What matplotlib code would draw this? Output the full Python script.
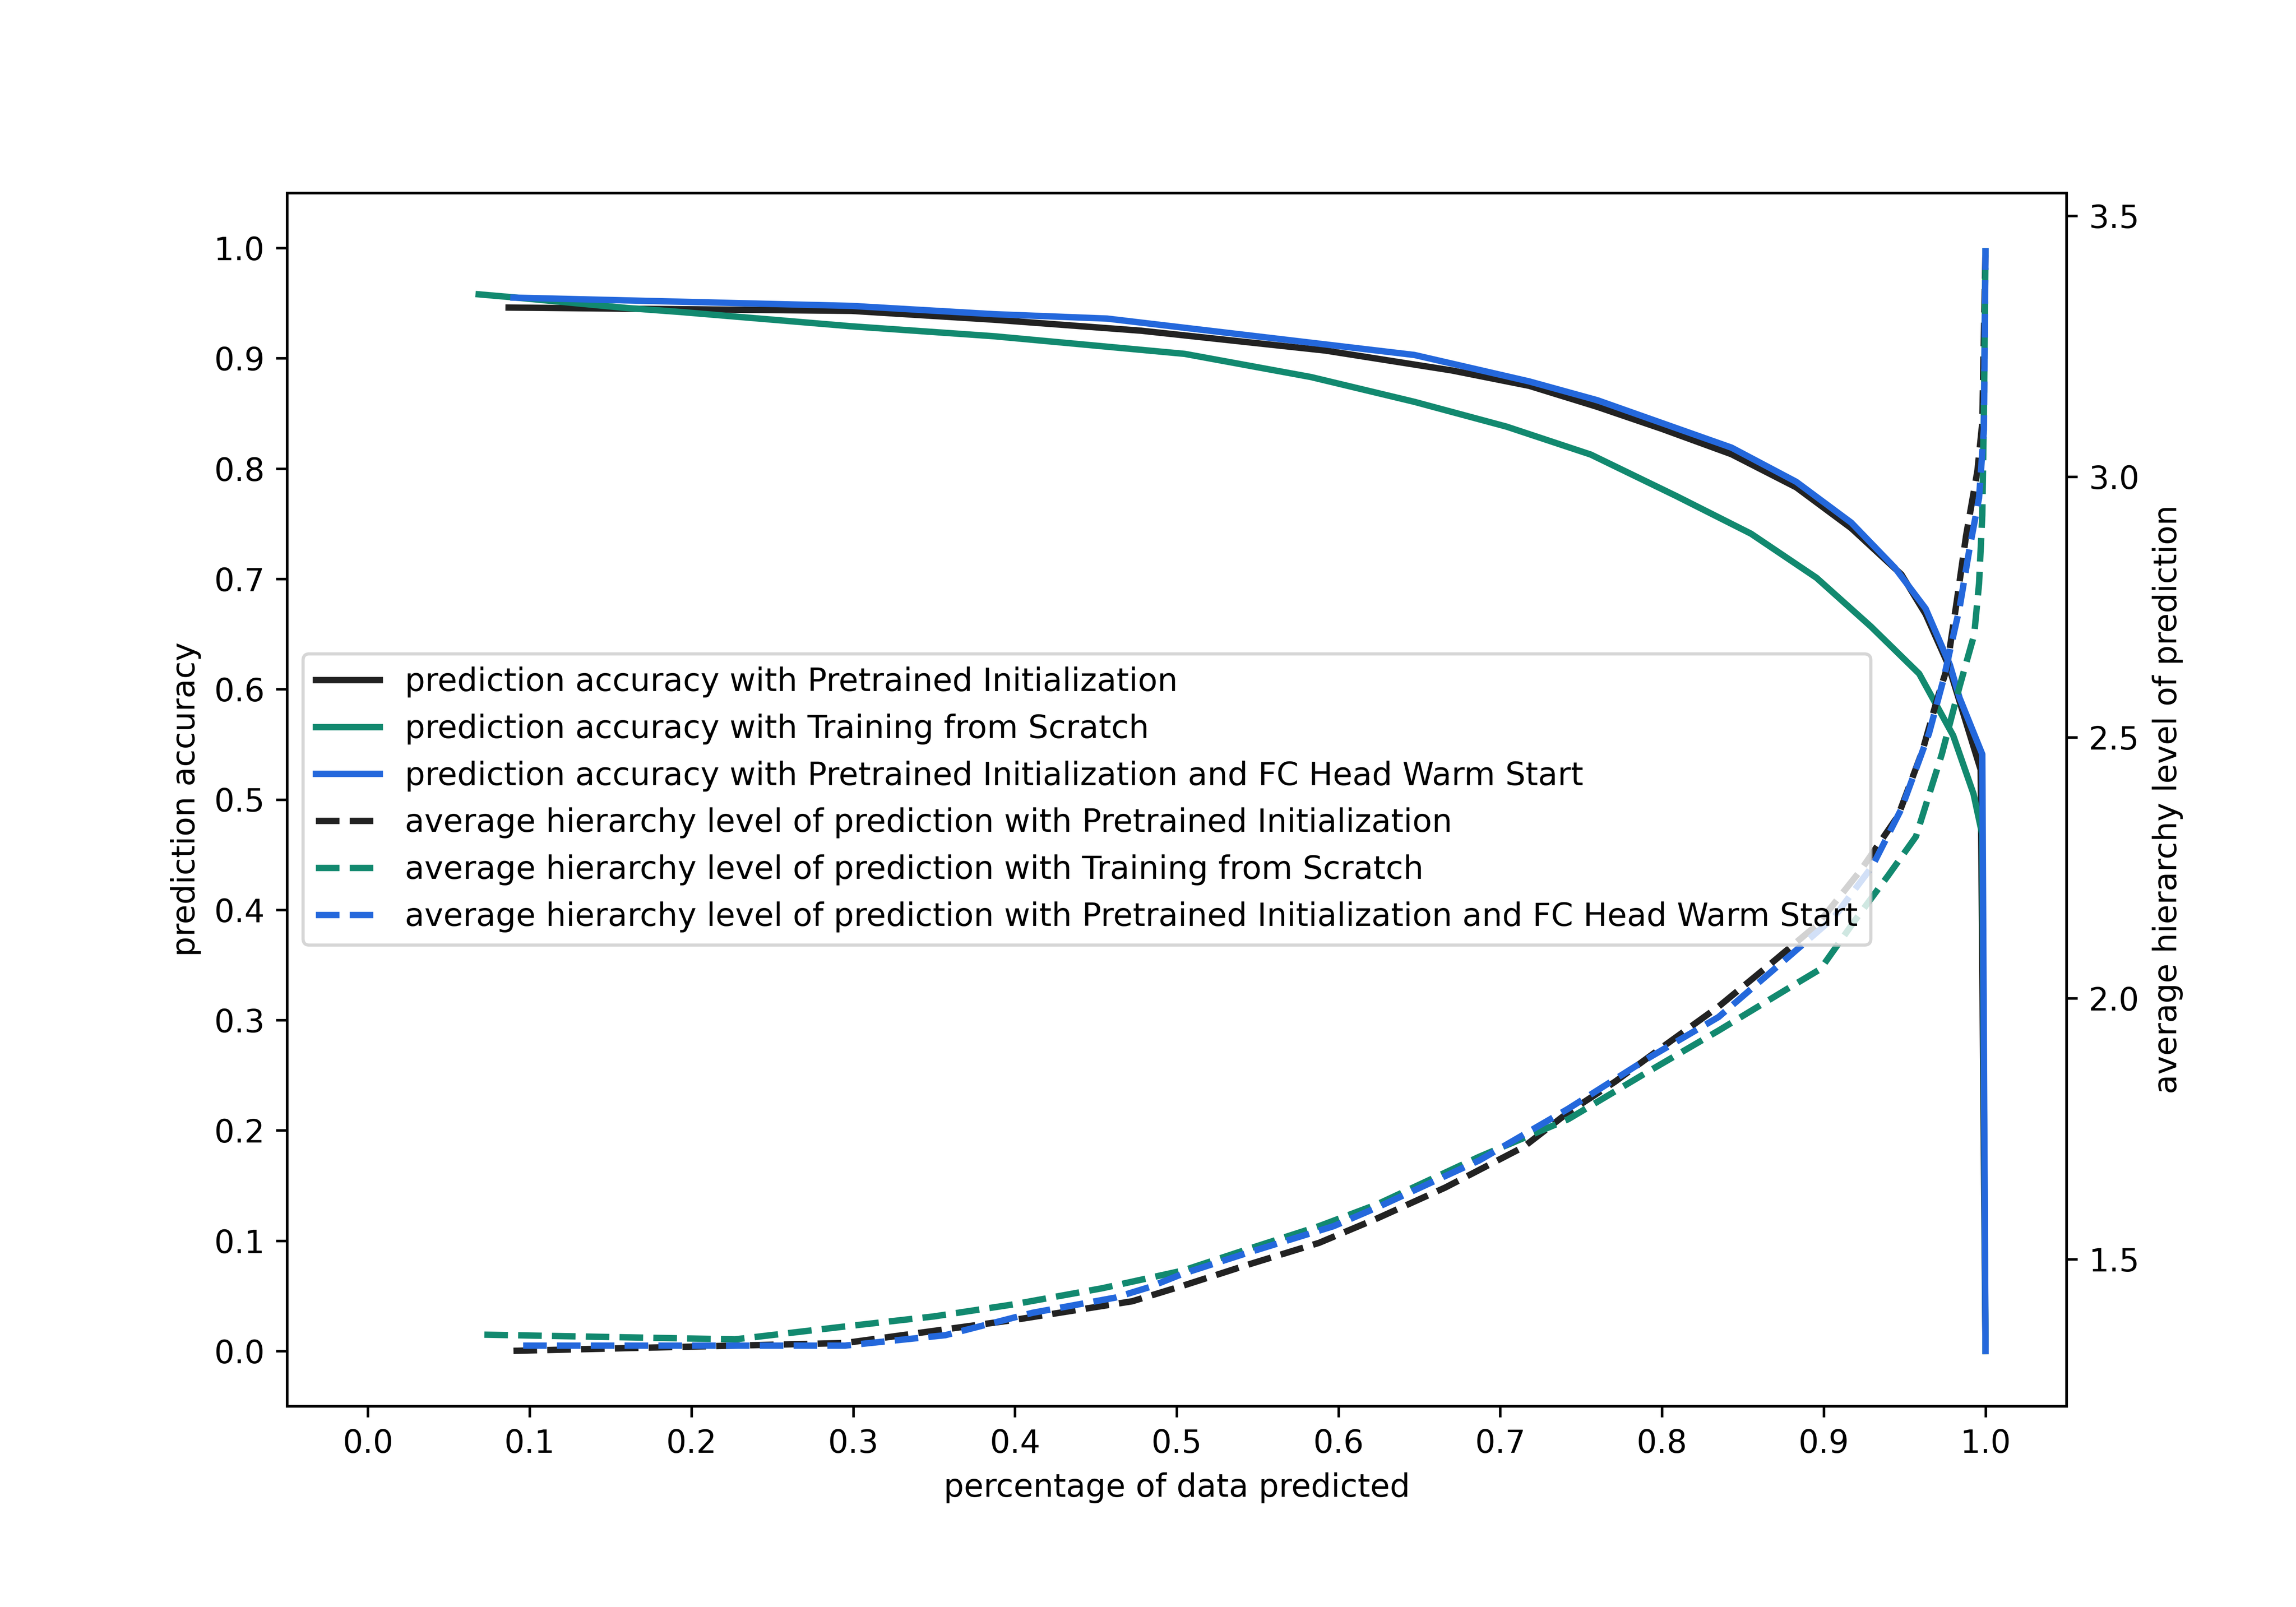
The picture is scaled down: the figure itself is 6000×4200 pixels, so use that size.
import matplotlib
matplotlib.use("Agg")
import matplotlib.pyplot as plt
import numpy as np

# ---- data: prediction accuracy (left axis) ----
acc_pre_x = [0.087, 0.299, 0.387, 0.478, 0.592, 0.670, 0.718, 0.760, 0.800, 0.843, 0.883, 0.917, 0.948,
             0.963, 0.977, 0.997, 1.0]
acc_pre_y = [0.946, 0.943, 0.935, 0.925, 0.907, 0.889, 0.875, 0.856, 0.836, 0.813, 0.783, 0.746, 0.704,
             0.668, 0.622, 0.527, 0.0]

acc_scr_x = [0.0685, 0.092, 0.160, 0.193, 0.299, 0.387, 0.505, 0.583, 0.647, 0.704, 0.756, 0.809, 0.855,
             0.8955, 0.929, 0.959, 0.980, 0.9926, 0.998, 1.0]
acc_scr_y = [0.958, 0.955, 0.9456, 0.942, 0.929, 0.920, 0.904, 0.883, 0.8605, 0.838, 0.8127, 0.775, 0.741,
             0.701, 0.657, 0.614, 0.558, 0.505, 0.468, 0.0]

acc_fc_x = [0.090, 0.299, 0.387, 0.457, 0.647, 0.718, 0.760, 0.843, 0.883, 0.917, 0.944, 0.963, 0.978,
            0.984, 0.998, 1.0]
acc_fc_y = [0.955, 0.9475, 0.940, 0.936, 0.903, 0.879, 0.862, 0.819, 0.788, 0.751, 0.710, 0.673, 0.622,
            0.592, 0.541, 0.0]

# ---- data: average hierarchy level (right axis) ----
lvl_pre_x = [0.090, 0.295, 0.399, 0.4725, 0.504, 0.546, 0.588, 0.624, 0.666, 0.7145, 0.742, 0.771, 0.797,
             0.835, 0.866, 0.896, 0.923, 0.946, 0.961, 0.970, 0.976, 0.982, 0.988, 0.995, 0.998, 1.0]
lvl_pre_y = [1.324, 1.339, 1.383, 1.419, 1.449, 1.491, 1.531, 1.578, 1.637, 1.715, 1.781, 1.840, 1.899,
             1.984, 2.063, 2.141, 2.246, 2.350, 2.474, 2.572, 2.631, 2.756, 2.887, 3.011, 3.103, 3.438]

lvl_scr_x = [0.072, 0.227, 0.293, 0.350, 0.399, 0.454, 0.504, 0.546, 0.588, 0.624, 0.687, 0.742, 0.788,
             0.835, 0.877, 0.898, 0.919, 0.940, 0.957, 0.973, 0.984, 0.993, 0.996, 0.998, 0.999, 1.0]
lvl_scr_y = [1.355, 1.346, 1.370, 1.390, 1.413, 1.444, 1.478, 1.521, 1.563, 1.605, 1.696, 1.768, 1.853,
             1.938, 2.017, 2.056, 2.148, 2.236, 2.310, 2.468, 2.598, 2.697, 2.795, 2.926, 3.122, 3.438]

lvl_fc_x = [0.096, 0.295, 0.357, 0.411, 0.462, 0.483, 0.504, 0.546, 0.597, 0.624, 0.687, 0.742, 0.792,
            0.835, 0.877, 0.906, 0.930, 0.948, 0.965, 0.974, 0.984, 0.990, 0.996, 0.999, 1.0]
lvl_fc_y = [1.334, 1.334, 1.354, 1.397, 1.426, 1.446, 1.472, 1.514, 1.563, 1.599, 1.689, 1.788, 1.886,
            1.964, 2.076, 2.154, 2.253, 2.363, 2.507, 2.611, 2.749, 2.860, 2.959, 3.090, 3.438]

labels_acc = ["prediction accuracy with Pretrained Initialization",
              "prediction accuracy with Training from Scratch",
              "prediction accuracy with Pretrained Initialization and FC Head Warm Start"]
labels_lvl = ["average hierarchy level of prediction with Pretrained Initialization",
              "average hierarchy level of prediction with Training from Scratch",
              "average hierarchy level of prediction with Pretrained Initialization and FC Head Warm Start"]

xticks = [0.0, 0.1, 0.2, 0.3, 0.4, 0.5, 0.6, 0.7, 0.8, 0.9, 1.0]
yticks = [0.0, 0.1, 0.2, 0.3, 0.4, 0.5, 0.6, 0.7, 0.8, 0.9, 1.0]

C_BLACK = "#222222"
C_GREEN = "#12896f"
C_BLUE = "#2468dc"

fig, ax = plt.subplots(figsize=(10, 7), dpi=600)
fig.subplots_adjust(left=0.125, right=0.9, top=0.88, bottom=0.125)

l1, = ax.plot(acc_pre_x, acc_pre_y, color=C_BLACK, lw=2, label=labels_acc[0])
l2, = ax.plot(acc_scr_x, acc_scr_y, color=C_GREEN, lw=2, label=labels_acc[1])
l3, = ax.plot(acc_fc_x, acc_fc_y, color=C_BLUE, lw=2, label=labels_acc[2])
ax.set_xlim(-0.05, 1.05)
ax.set_ylim(-0.05, 1.05)
ax.set_xticks(xticks)
ax.set_yticks(yticks)
ax.set_xlabel("percentage of data predicted")
ax.set_ylabel("prediction accuracy")

ax2 = ax.twinx()
l4, = ax2.plot(lvl_pre_x, lvl_pre_y, color=C_BLACK, lw=2, ls="--", label=labels_lvl[0])
l5, = ax2.plot(lvl_scr_x, lvl_scr_y, color=C_GREEN, lw=2, ls="--", label=labels_lvl[1])
l6, = ax2.plot(lvl_fc_x, lvl_fc_y, color=C_BLUE, lw=2, ls="--", label=labels_lvl[2])
ax2.set_ylim(1.218, 3.544)
ax2.set_ylabel("average hierarchy level of prediction")

handles = [l1, l2, l3, l4, l5, l6]
ax2.legend(handles, [h.get_label() for h in handles], loc="center left")

fig.savefig("out.png", dpi=600)
